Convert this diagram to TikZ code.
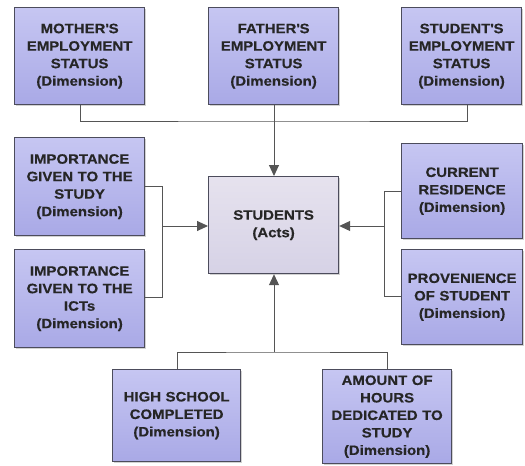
\documentclass[tikz,border=0pt]{standalone}
\usepackage{fontspec}
\setmainfont{Liberation Sans}[FakeStretch=1.1, BoldFeatures={FakeBold=0.4}]
\usetikzlibrary{arrows.meta,shadows}
\definecolor{dimtop}{HTML}{C6C6F2}
\definecolor{dimbot}{HTML}{A9A9E6}
\definecolor{acttop}{HTML}{E6E2EE}
\definecolor{actbot}{HTML}{D6D2E6}
\definecolor{edge}{HTML}{4C4C5C}
\definecolor{txt}{HTML}{262626}
\definecolor{wire}{HTML}{555555}
\tikzset{
  box/.style={draw=edge, line width=1.2pt, inner sep=0pt, anchor=north west,
    font=\bfseries\fontsize{13.6}{17.5}\selectfont, text=txt, align=center,
    drop shadow={shadow xshift=1.5pt, shadow yshift=-1.5pt, fill=black!35, opacity=0.5}},
  dimbox/.style={box, top color=dimtop, bottom color=dimbot},
  actbox/.style={box, top color=acttop, bottom color=actbot},
  wirestyle/.style={draw=wire, line width=1pt},
  arr/.style={wirestyle, -{Triangle[length=11pt,width=10pt]}},
}
\newcommand{\q}{\textquotesingle}
\newcommand{\dbox}[6]{% name, x1, y1, x2, y2, text
  \pgfmathsetmacro\bw{#4-#2}\pgfmathsetmacro\bh{#5-#3}%
  \node[dimbox, minimum width=\bw pt, minimum height=\bh pt, text width=\bw pt] (#1) at (#2pt,-#3pt) {#6};}
\begin{document}
\begin{tikzpicture}
\useasboundingbox (0,0) rectangle (525pt,-466pt);
\dbox{mo}{14}{7}{144}{104}{MOTHER\q S\\EMPLOYMENT\\STATUS\\(Dimension)}
\dbox{fa}{208}{7}{338}{104}{FATHER\q S\\EMPLOYMENT\\STATUS\\(Dimension)}
\dbox{se}{401}{7}{521}{104}{STUDENT\q S\\EMPLOYMENT\\STATUS\\(Dimension)}
\dbox{is}{14}{137}{144}{235}{IMPORTANCE\\GIVEN TO THE\\STUDY\\(Dimension)}
\dbox{ii}{14}{249}{144}{347}{IMPORTANCE\\GIVEN TO THE\\ICTs\\(Dimension)}
\dbox{cr}{401}{143}{522}{238}{CURRENT\\RESIDENCE\\(Dimension)}
\dbox{pr}{401}{249}{522}{344}{PROVENIENCE\\OF STUDENT\\(Dimension)}
\dbox{hs}{112}{369}{240}{461}{HIGH SCHOOL\\COMPLETED\\(Dimension)}
\dbox{am}{322}{369}{451}{463}{AMOUNT OF\\HOURS\\DEDICATED TO\\STUDY\\(Dimension)}
\node[actbox, minimum width=130pt, minimum height=97pt, text width=130pt] (st) at (208pt,-176pt) {STUDENTS\\(Acts)};
% top group
\coordinate (tj) at (274pt,-121pt);
\draw[wirestyle] (mo.south -| 80pt,0) |- (tj) -| (se.south -| 467pt,0);
\draw[wirestyle] (fa.south -| tj) -- (tj);
\draw[arr] (tj) -- (st.north -| tj);
% left group
\coordinate (lj) at (162pt,-226pt);
\draw[wirestyle] (is.east |- 0,-186pt) -| (lj |- 0,-297pt) -- (ii.east |- 0,-297pt);
\draw[arr] (lj) -- (st.west |- lj);
% right group
\coordinate (rj) at (384pt,-226pt);
\draw[wirestyle] (cr.west |- 0,-191pt) -| (rj |- 0,-296pt) -- (pr.west |- 0,-296pt);
\draw[arr] (rj) -- (st.east |- rj);
% bottom group
\coordinate (bj) at (274pt,-352pt);
\draw[wirestyle] (hs.north -| 177pt,0) |- (bj) -| (am.north -| 387pt,0);
\draw[arr] (bj) -- (st.south -| bj);
\end{tikzpicture}
\end{document}
